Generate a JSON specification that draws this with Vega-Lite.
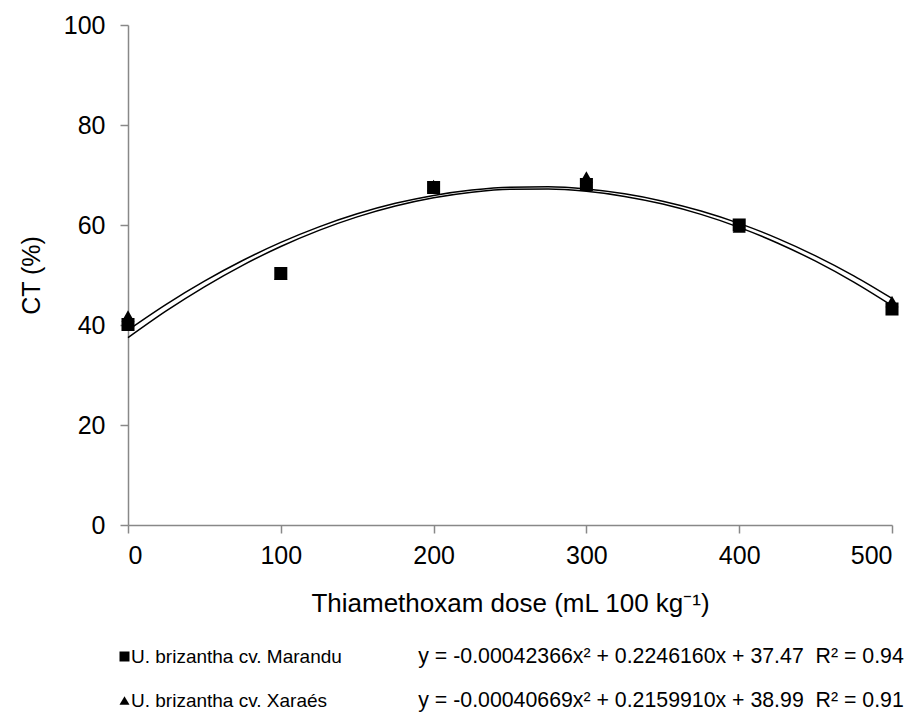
{
  "$schema": "https://vega.github.io/schema/vega-lite/v6.json",
  "width": 764,
  "height": 500,
  "autosize": {"type": "none"},
  "padding": {"left": 128, "top": 25, "right": 28, "bottom": 187},
  "background": "white",
  "config": {
    "view": {"stroke": null},
    "font": "Liberation Sans",
    "axis": {"grid": false, "domainColor": "#888888", "tickColor": "#888888", "labelColor": "#000000", "titleColor": "#000000", "labelFont": "Liberation Sans", "titleFont": "Liberation Sans", "labelFontSize": 25, "titleFontSize": 25, "titleFontWeight": "normal", "tickSize": 8, "domainWidth": 1.5, "tickWidth": 1.5}
  },
  "datasets": {
    "points": [
      {"dose": 0, "ct": 41.8, "cultivar": "U. brizantha cv. Xaraés"},
      {"dose": 100, "ct": 50.2, "cultivar": "U. brizantha cv. Xaraés"},
      {"dose": 200, "ct": 67.9, "cultivar": "U. brizantha cv. Xaraés"},
      {"dose": 300, "ct": 69.6, "cultivar": "U. brizantha cv. Xaraés"},
      {"dose": 400, "ct": 59.6, "cultivar": "U. brizantha cv. Xaraés"},
      {"dose": 500, "ct": 44.7, "cultivar": "U. brizantha cv. Xaraés"},
      {"dose": 0, "ct": 40.1, "cultivar": "U. brizantha cv. Marandu"},
      {"dose": 100, "ct": 50.3, "cultivar": "U. brizantha cv. Marandu"},
      {"dose": 200, "ct": 67.5, "cultivar": "U. brizantha cv. Marandu"},
      {"dose": 300, "ct": 68.1, "cultivar": "U. brizantha cv. Marandu"},
      {"dose": 400, "ct": 60.0, "cultivar": "U. brizantha cv. Marandu"},
      {"dose": 500, "ct": 43.2, "cultivar": "U. brizantha cv. Marandu"}
    ],
    "curves": [
      {"dose": 0, "ct": 37.47, "fit": "Marandu"},
      {"dose": 25, "ct": 42.82, "fit": "Marandu"},
      {"dose": 50, "ct": 47.64, "fit": "Marandu"},
      {"dose": 75, "ct": 51.93, "fit": "Marandu"},
      {"dose": 100, "ct": 55.70, "fit": "Marandu"},
      {"dose": 125, "ct": 58.93, "fit": "Marandu"},
      {"dose": 150, "ct": 61.63, "fit": "Marandu"},
      {"dose": 175, "ct": 63.80, "fit": "Marandu"},
      {"dose": 200, "ct": 65.45, "fit": "Marandu"},
      {"dose": 225, "ct": 66.56, "fit": "Marandu"},
      {"dose": 250, "ct": 67.15, "fit": "Marandu"},
      {"dose": 275, "ct": 67.20, "fit": "Marandu"},
      {"dose": 300, "ct": 66.73, "fit": "Marandu"},
      {"dose": 325, "ct": 65.72, "fit": "Marandu"},
      {"dose": 350, "ct": 64.19, "fit": "Marandu"},
      {"dose": 375, "ct": 62.12, "fit": "Marandu"},
      {"dose": 400, "ct": 59.53, "fit": "Marandu"},
      {"dose": 425, "ct": 56.41, "fit": "Marandu"},
      {"dose": 450, "ct": 52.76, "fit": "Marandu"},
      {"dose": 475, "ct": 48.57, "fit": "Marandu"},
      {"dose": 500, "ct": 43.86, "fit": "Marandu"},
      {"dose": 0, "ct": 38.99, "fit": "Xaraés"},
      {"dose": 25, "ct": 44.14, "fit": "Xaraés"},
      {"dose": 50, "ct": 48.77, "fit": "Xaraés"},
      {"dose": 75, "ct": 52.90, "fit": "Xaraés"},
      {"dose": 100, "ct": 56.52, "fit": "Xaraés"},
      {"dose": 125, "ct": 59.63, "fit": "Xaraés"},
      {"dose": 150, "ct": 62.24, "fit": "Xaraés"},
      {"dose": 175, "ct": 64.33, "fit": "Xaraés"},
      {"dose": 200, "ct": 65.92, "fit": "Xaraés"},
      {"dose": 225, "ct": 67.00, "fit": "Xaraés"},
      {"dose": 250, "ct": 67.57, "fit": "Xaraés"},
      {"dose": 275, "ct": 67.63, "fit": "Xaraés"},
      {"dose": 300, "ct": 67.19, "fit": "Xaraés"},
      {"dose": 325, "ct": 66.23, "fit": "Xaraés"},
      {"dose": 350, "ct": 64.77, "fit": "Xaraés"},
      {"dose": 375, "ct": 62.80, "fit": "Xaraés"},
      {"dose": 400, "ct": 60.32, "fit": "Xaraés"},
      {"dose": 425, "ct": 57.33, "fit": "Xaraés"},
      {"dose": 450, "ct": 53.83, "fit": "Xaraés"},
      {"dose": 475, "ct": 49.83, "fit": "Xaraés"},
      {"dose": 500, "ct": 45.31, "fit": "Xaraés"}
    ]
  },
  "encoding": {
    "x": {"field": "dose", "type": "quantitative", "scale": {"domain": [0, 500], "nice": false, "zero": false}, "axis": {"values": [0, 100, 200, 300, 400, 500], "title": "Thiamethoxam dose (mL 100 kg⁻¹)", "titleFontSize": 26, "labelPadding": 10, "titlePadding": 22}},
    "y": {"field": "ct", "type": "quantitative", "scale": {"domain": [0, 100], "nice": false}, "axis": {"values": [0, 20, 40, 60, 80, 100], "title": "CT (%)", "labelPadding": 15, "titlePadding": 19}}
  },
  "layer": [
    {
      "data": {"name": "curves"},
      "mark": {"type": "line", "color": "black", "strokeWidth": 1.5, "interpolate": "monotone"},
      "encoding": {
        "detail": {"field": "fit", "type": "nominal"},
        "opacity": {
          "field": "fit", "type": "nominal",
          "scale": {"domain": ["Marandu", "Xaraés"], "range": [1, 1]},
          "legend": {
            "orient": "none", "legendX": 269, "legendY": 621, "title": null,
            "symbolOpacity": 0, "symbolSize": 0, "symbolStrokeWidth": 0,
            "labelOffset": 0, "labelFontSize": 21.3, "labelFont": "Liberation Sans", "labelColor": "black", "labelLimit": 0,
            "rowPadding": 22,
            "labelExpr": "datum.value === 'Marandu' ? 'y = -0.00042366x² + 0.2246160x + 37.47\u00a0\u00a0R² = 0.94' : 'y = -0.00040669x² + 0.2159910x + 38.99\u00a0\u00a0R² = 0.91'"
          }
        }
      }
    },
    {
      "data": {"name": "points"},
      "mark": {"type": "point", "filled": true, "color": "black", "opacity": 1, "size": 170},
      "encoding": {
        "shape": {
          "field": "cultivar", "type": "nominal",
          "scale": {"domain": ["U. brizantha cv. Marandu", "U. brizantha cv. Xaraés"], "range": ["square", "triangle-up"]},
          "legend": {
            "orient": "none", "legendX": -13, "legendY": 622, "title": null,
            "symbolFillColor": "black", "symbolStrokeColor": "black", "symbolSize": 100, "symbolOpacity": 1,
            "labelFontSize": 19, "labelFont": "Liberation Sans", "labelColor": "black", "labelOffset": -3, "labelLimit": 0,
            "rowPadding": 24
          }
        },
        "order": {"field": "cultivar", "type": "nominal", "sort": "descending"}
      }
    }
  ]
}
